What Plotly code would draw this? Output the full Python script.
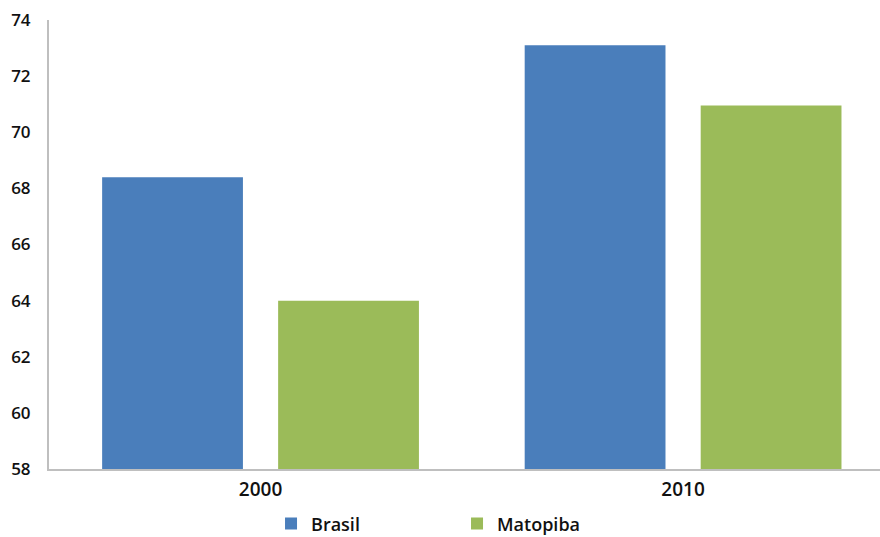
import plotly.graph_objects as go

years = ["2000", "2010"]
brasil = [68.4, 73.1]
matopiba = [64.0, 70.95]
y_ticks = [58, 60, 62, 64, 66, 68, 70, 72, 74]

font_family = "Open Sans"

def f(size):
    return dict(family=font_family, size=size, color="#111111", weight=600)

fig = go.Figure()
fig.add_trace(go.Bar(x=years, y=brasil, name="Brasil",
                     marker=dict(color="#4A7EBB", line=dict(width=0))))
fig.add_trace(go.Bar(x=years, y=matopiba, name="Matopiba",
                     marker=dict(color="#9BBB59", line=dict(width=0))))

fig.update_layout(
    width=880, height=537,
    margin=dict(l=49, r=0, t=20, b=68, autoexpand=False),
    paper_bgcolor="white", plot_bgcolor="white",
    barmode="group", bargap=0.167, bargroupgap=0.2,
    font=dict(family=font_family, size=18, color="#111111"),
    showlegend=True,
    legend=dict(orientation="h", x=0.491, xanchor="center", y=-0.081, yanchor="top",
                font=f(18),
                entrywidth=141, entrywidthmode="pixels", traceorder="normal"),
)
fig.update_xaxes(type="category", range=[-0.5006, 1.466], automargin=False,
                 showline=True, linecolor="#BFBFBF", linewidth=2,
                 showgrid=False, ticks="", zeroline=False, ticklabelstandoff=2,
                 tickfont=f(19))
fig.update_yaxes(range=[58, 74], tickvals=y_ticks, ticktext=[str(v) for v in y_ticks],
                 automargin=False,
                 showline=True, linecolor="#BFBFBF", linewidth=2,
                 showgrid=False, zeroline=False, ticks="", ticklabelstandoff=13,
                 tickfont=f(17))

fig.write_html("out.html", config={"displayModeBar": False},
               post_script="document.body.style.margin='0';document.body.style.overflow='hidden';")
